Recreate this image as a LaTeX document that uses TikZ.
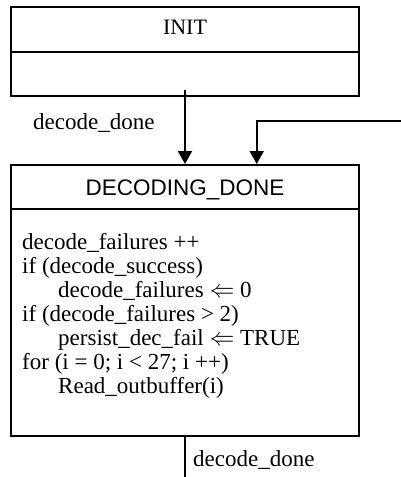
\documentclass[tikz,border=0pt]{standalone}
\usepackage{fontspec}
\setmainfont{Liberation Serif}
\newfontfamily\arialfont{Liberation Sans}
\usetikzlibrary{arrows.meta}
\tikzset{
  box/.style={draw, line width=2pt, inner sep=0pt},
  divider/.style={line width=2pt},
  conn/.style={line width=2pt, -{Triangle[width=14pt,length=13pt]}},
  plainline/.style={line width=1.6pt},
  code/.style={anchor=base west, inner sep=0pt, font=\fontsize{23}{24}\selectfont},
  title/.style={anchor=base, inner sep=0pt},
}
\begin{document}
\begin{tikzpicture}[x=1pt,y=-1pt]
\useasboundingbox (0,0) rectangle (401,477);
% INIT state
\node[box, minimum width=348pt, minimum height=89pt] (init) at (185,51.5) {};
\draw[divider] (11,52) -- (359,52);
\node[title, font=\fontsize{22}{24}\selectfont] (initt) at (185,34) {INIT};
% DECODING_DONE state
\node[box, minimum width=348pt, minimum height=271pt] (dd) at (185,300.5) {};
\draw[divider] (11,209) -- (359,209);
\node[title, font=\arialfont\fontsize{22.5}{24}\selectfont] (ddt) at (185,195) {DECODING\_DONE};
% body
\node[code] (l1) at (22,249) {decode\_failures ++};
\node[code] (l2) at (22,273) {if (decode\_success)};
\node[code] (l3) at (58,297) {decode\_failures $\Leftarrow$ 0};
\node[code] (l4) at (22,321) {if (decode\_failures > 2)};
\node[code] (l5) at (58,345) {persist\_dec\_fail $\Leftarrow$ TRUE};
\node[code] (l6) at (22,369) {for (i = 0; i < 27; i ++)};
\node[code] (l7) at (58,393) {Read\_outbuffer(i)};
% connectors
\coordinate (s1) at (185,90);
\coordinate (s2) at (401,120.7);
\coordinate (t2) at (256.7,164);
\coordinate (e3) at (185,477);
\draw[conn] (s1) -- (dd.north);
\draw[conn] (s2) -| (t2);
\draw[plainline] (dd.south) -- (e3);
% labels
\node[code] (lab1) at (33,129) {decode\_done};
\node[code] (lab2) at (193,466) {decode\_done};
\end{tikzpicture}
\end{document}
